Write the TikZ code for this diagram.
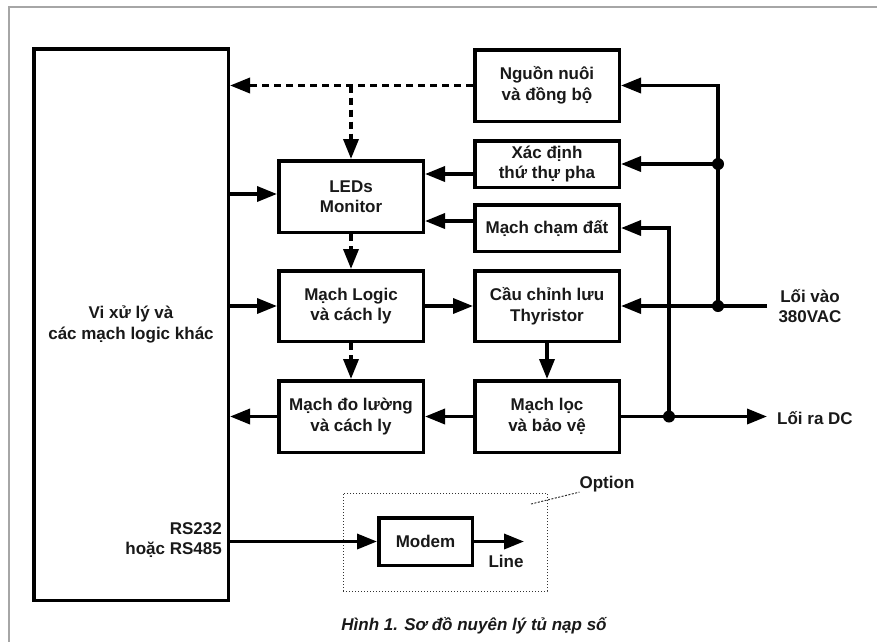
\documentclass[tikz,border=0pt]{standalone}
\usepackage{fontspec}
\setmainfont{Liberation Sans}
\usetikzlibrary{arrows.meta,calc}
\begin{document}
\begin{tikzpicture}[x=1pt,y=-1pt,
  lbl/.style={font=\fontsize{17}{20.5}\selectfont\bfseries,align=center,inner sep=0pt,text=black!90},
  box/.style={lbl,draw=black,line width=3.5pt,minimum width=144.5pt},
  arr/.style={line width=3.5pt,-{Triangle[length=20pt,width=15pt]}},
  dsh/.style={line width=3.5pt,dash pattern=on 7pt off 5pt},
  darr/.style={dsh,-{Triangle[length=20pt,width=15pt]}},
  junc/.style={circle,fill=black,inner sep=0pt,minimum size=12pt}]
\useasboundingbox (0,0) rectangle (877,641);
\fill[white] (0,0) rectangle (877,641);
% outer frame
\draw[gray!70,line width=1.5pt] (9,641.5) -- (9,7) -- (878,7);
% blocks
\node[box,minimum width=194.5pt,minimum height=551.5pt] (cpu) at (131,324.5) {Vi xử lý và\\các mạch logic khác};
\node[box,minimum height=71.5pt] (psu) at (547,85.5) {Nguồn nuôi\\và đồng bộ};
\node[box,minimum height=46.5pt] (phase) at (547,164) {Xác định\\thứ thự pha};
\node[box,minimum height=46.5pt] (gnd) at (547,228) {Mạch chạm đất};
\node[box,minimum height=71.5pt] (led) at (351,196.5) {LEDs\\Monitor};
\node[box,minimum height=70.5pt] (logic) at (351,306) {Mạch Logic\\và cách ly};
\node[box,minimum height=70.5pt] (rect) at (547,306) {Cầu chỉnh lưu\\Thyristor};
\node[box,minimum height=71.5pt] (meas) at (351,416.5) {Mạch đo lường\\và cách ly};
\node[box,minimum height=71.5pt] (filt) at (547,416.5) {Mạch lọc\\và bảo vệ};
\node[box,minimum width=93.5pt,minimum height=47.5pt] (modem) at (425.5,541.5) {Modem};
% option frame
\node[draw=black!80,line width=1pt,dotted,minimum width=204pt,minimum height=98pt,inner sep=0pt] (opt) at (445,542) {};
% labels
\node[lbl,align=right,anchor=east] (rs) at (222,540) {RS232\\hoặc RS485};
\node[lbl] (vin) at (810,306) {Lối vào\\380VAC};
\node[lbl,anchor=west] (vout) at (777,418) {Lối ra DC};
\node[lbl] (optl) at (607,484) {Option};
\node[lbl] (linel) at (506,561) {Line};
\node[lbl,font=\fontsize{17}{20.5}\selectfont\bfseries\itshape] (cap) at (474,626) {Hình 1. Sơ đồ nuyên lý tủ nạp số};
% coordinates
\coordinate (inp) at (767,306);
\coordinate (outp) at (767,416.5);
\coordinate (j1) at (718,306);
\coordinate (j2) at (718,164);
\coordinate (j3) at (669,416.5);
\coordinate (lineend) at (524,541.5);
\coordinate (phl) at ([yshift=-10pt]phase.west);
\coordinate (gnl) at ([yshift=7pt]gnd.west);
\coordinate (ledin) at ([yshift=2.5pt]led.west);
\coordinate (optp) at (531,504);
% dashed connections
\draw[darr] (psu.west) -- (psu.west -| cpu.east);
\draw[darr] (psu.west -| led.north) -- (led.north);
\draw[darr] (led.south) -- (logic.north);
\draw[darr] (logic.south) -- (meas.north);
% solid connections
\draw[arr] (cpu.east |- ledin) -- (ledin);
\draw[arr] (cpu.east |- logic.west) -- (logic.west);
\draw[arr] (meas.west) -- (cpu.east |- meas.west);
\draw[arr] (phl) -- (phl -| led.east);
\draw[arr] (gnl) -- (gnl -| led.east);
\draw[arr] (logic.east) -- (rect.west);
\draw[arr] (rect.south) -- (filt.north);
\draw[arr] (filt.west) -- (meas.east);
\draw[arr] (filt.east) -- (outp);
\draw[arr] (j3) |- (gnd.east);
\draw[arr] (inp) -- (rect.east);
\draw[arr] (j1) |- (psu.east);
\draw[arr] (j2) -- (phase.east);
\draw[arr] (cpu.east |- modem.west) -- (modem.west);
\draw[arr] (modem.east) -- (lineend);
\draw[black!80,line width=1pt,dash pattern=on 2pt off 1.5pt] (optp) -- (optl.south west);
% junction dots
\node[junc] at (j1) {};
\node[junc] at (j2) {};
\node[junc] at (j3) {};
\end{tikzpicture}
\end{document}
